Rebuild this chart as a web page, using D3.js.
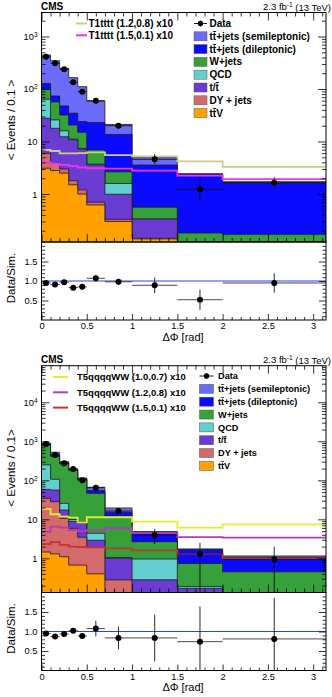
<!DOCTYPE html>
<html>
<head>
<meta charset="utf-8">
<script src="https://cdn.jsdelivr.net/npm/d3@7"></script>
<style>
  body { margin: 0; background: #fff; }
  svg { font-family: "Liberation Sans", Arial, Helvetica, sans-serif; }
</style>
</head>
<body>
<script>
// shared binning in delta phi
var binEdges = [0, 0.1, 0.2, 0.3, 0.4, 0.5, 0.7, 1.0, 1.5, 2.0, Math.PI];
var dataX = [0.05, 0.15, 0.25, 0.35, 0.45, 0.6, 0.85, 1.25, 1.75, 2.57];
var xTicks = [0, 0.5, 1, 1.5, 2, 2.5, 3];
var ratioTicks = [0.5, 1.0, 1.5];

// stack, bottom first
var procNames = ["tt\u0304V", "DY + jets", "t/t\u0304", "QCD", "W+jets",
                 "tt\u0304+jets (dileptonic)", "tt\u0304+jets (semileptonic)"];
var procColors = ["#ffa000", "#d46a6a", "#6a3cd2", "#63cfcf", "#36a03a", "#0a0aff", "#6b6bfa"];

// ---- upper plot (T1tttt) ----
var topTtv   = [3.1, 2.8, 2.5, 1.5, 1.0, 0.62, 0.30, 0.14, 0.001, 0.001];
var topDy    = [2.85, 1.05, 0.5, 0.3, 0.2, 0.08, 0.03, 0.003, 0, 0];
var topT     = [21.8, 14, 9.3, 9, 6, 2.9, 0.66, 0.19, 0.12, 0.12];
var topQcd   = [36, 7.9, 3.7, 0.3, 0.2, 0.1, 0.6, 0, 0, 0];
var topW     = [35, 31, 16, 9.5, 7.6, 3.2, 1.06, 0.23, 0.06, 0.05];
var topDilep = [29, 17, 15.6, 14, 9, 16, 11, 3.0, 2.2, 1.45];
var topSemi  = [316, 272, 200, 130, 87, 36, 7.5, 1.5, 0.06, 0.1];
var topData   = [412, 309, 237, 134, 89, 60, 20, 4.6, 1.23, 1.64];
var topDataLo = [392, 291, 222, 122, 80, 55, 17.5, 3.7, 0.74, 1.28];
var topDataHi = [432, 327, 252, 146, 98, 65, 22.5, 5.8, 1.99, 2.08];
var topRatio    = [0.95, 0.91, 0.97, 0.83, 0.85, 1.07, 0.98, 0.89, 0.52, 0.95];
var topRatioErr = [0.04, 0.04, 0.05, 0.05, 0.06, 0.08, 0.08, 0.2, 0.26, 0.25];
var topSigA = [6.9, 6.6, 5.95, 5.95, 6.0, 6.2, 5.5, 5.2, 4.2, 3.3];
var topSigB = [4.0, 3.8, 3.6, 3.4, 3.2, 3.1, 3.05, 2.8, 2.25, 1.93];
var topSigNames = ["T1tttt (1.2,0.8) x10", "T1tttt (1.5,0.1) x10"];
var topSigColors = ["#cdcd8a", "#ee33ee"];

// ---- lower plot (T5qqqqWW) ----
var botTtv   = [1.45, 1.3, 1.1, 0.67, 0.67, 0.4, 0.02, 0.001, 0, 0];
var botDy    = [33, 27, 9.5, 5.2, 2.8, 1.5, 0.26, 0.01, 0, 0];
var botT     = [24, 28, 6.7, 3, 5, 1.0, 0.72, 0.27, 0.17, 0.09];
var botQcd   = [190, 50, 8.4, 1, 0.3, 1.5, 0.05, 0.68, 0.02, 0.01];
var botW     = [560, 300, 240, 170, 93, 42, 11, 1.7, 0.55, 0.35];
var botDilep = [30, 40, 15, 6, 8, 8, 3, 1.8, 0.95, 0.61];
var botSemi  = [60, 78, 20, 8, 5, 12, 4.5, 0.4, 0.05, 0.09];
var botData   = [853, 447, 272, 195, 101, 64.5, 16.3, 3.96, 1.29, 0.94];
var botDataLo = [824, 426, 256, 181, 91, 58.8, 14, 2.3, 0.05, 0.05];
var botDataHi = [882, 468, 289, 209, 111, 70.2, 18.6, 5.6, 2.5, 1.98];
var botRatio    = [0.95, 0.87, 0.935, 1.02, 0.885, 1.075, 0.835, 0.835, 0.74, 0.81];
var botRatioErr = [0.04, 0.03, 0.05, 0.06, 0.07, 0.2, 0.29, 0.6, 0.9, 1.05];
var botSigA = [18.5, 13.5, 11.7, 11.0, 8.3, 11.3, 11.3, 8.7, 6.1, 7.4];
var botSigB = [4.8, 6.5, 6.1, 5.3, 5.0, 5.3, 5.9, 4.4, 3.5, 3.4];
var botSigC = [2.3, 2.6, 2.2, 2.0, 1.95, 1.9, 1.8, 1.6, 1.28, 1.0];
var botSigNames = ["T5qqqqWW (1.0,0.7) x10", "T5qqqqWW (1.2,0.8) x10", "T5qqqqWW (1.5,0.1) x10"];
var botSigColors = ["#e3ee2e", "#b43cb4", "#c83232"];

var svg = d3.select("body").append("svg").attr("width", 332).attr("height", 697);
var x = d3.scaleLinear().domain([0, Math.PI]).range([41.5, 326]);

function stepPts(vals, floor) {
  var pts = [];
  vals.forEach(function (v, i) {
    pts.push([binEdges[i], Math.max(v, floor)]);
    pts.push([binEdges[i + 1], Math.max(v, floor)]);
  });
  return pts;
}

function supLabels(sel, fs) {
  sel.selectAll(".tick text").each(function (d) {
    var t = d3.select(this);
    if (d >= 100) {
      t.text("10");
      t.append("tspan").attr("dy", "-0.5em").attr("font-size", (fs * 0.7) + "px")
        .text(Math.round(Math.log10(d)));
    }
  });
}

function drawPanel(p) {
  var y = d3.scaleLog().domain(p.yDomain).range([p.mid, p.top]);
  var yr = d3.scaleLinear().domain([0, 2]).range([p.bot, p.mid]);
  var floor = p.yDomain[0] * 0.5;

  svg.append("clipPath").attr("id", "main" + p.id).append("rect")
    .attr("x", x(0)).attr("y", p.top).attr("width", x(Math.PI) - x(0)).attr("height", p.mid - p.top);
  svg.append("clipPath").attr("id", "ratio" + p.id).append("rect")
    .attr("x", x(0)).attr("y", p.mid).attr("width", x(Math.PI) - x(0)).attr("height", p.bot - p.mid);

  var plot = svg.append("g").attr("clip-path", "url(#main" + p.id + ")");

  // cumulative stack
  var cum = [], run = p.stack[0].map(function () { return 0; });
  p.stack.forEach(function (s) {
    run = run.map(function (v, i) { return v + s[i]; });
    cum.push(run.slice());
  });
  var area = d3.area().x(function (d) { return x(d[0]); })
    .y0(p.mid + 3).y1(function (d) { return y(d[1]); });
  for (var k = cum.length - 1; k >= 0; k--) {
    plot.append("path").attr("d", area(stepPts(cum[k], floor)))
      .attr("fill", procColors[k]).attr("stroke", "#1c1c1c").attr("stroke-width", 0.8);
  }

  // signal lines
  var line = d3.line().x(function (d) { return x(d[0]); }).y(function (d) { return y(d[1]); });
  p.sigs.forEach(function (s, i) {
    plot.append("path").attr("d", line(stepPts(s, floor))).attr("fill", "none")
      .attr("stroke", p.sigColors[i]).attr("stroke-width", 1.8);
  });

  // data
  var dg = plot.append("g");
  p.data.forEach(function (v, i) {
    dg.append("line").attr("x1", x(binEdges[i])).attr("x2", x(binEdges[i + 1]))
      .attr("y1", y(v)).attr("y2", y(v)).attr("stroke", "#111").attr("stroke-width", 0.9);
    dg.append("line").attr("x1", x(dataX[i])).attr("x2", x(dataX[i]))
      .attr("y1", y(Math.max(p.dataLo[i], floor))).attr("y2", y(p.dataHi[i]))
      .attr("stroke", "#111").attr("stroke-width", 0.9);
    dg.append("circle").attr("cx", x(dataX[i])).attr("cy", y(v)).attr("r", 3).attr("fill", "#000");
  });

  // ratio panel
  var rg = svg.append("g").attr("clip-path", "url(#ratio" + p.id + ")");
  rg.append("line").attr("x1", x(0)).attr("x2", x(Math.PI)).attr("y1", yr(1)).attr("y2", yr(1))
    .attr("stroke", "#3344dd").attr("stroke-width", 1);
  p.ratio.forEach(function (v, i) {
    rg.append("line").attr("x1", x(binEdges[i])).attr("x2", x(binEdges[i + 1]))
      .attr("y1", yr(v)).attr("y2", yr(v)).attr("stroke", "#333").attr("stroke-width", 0.9);
    rg.append("line").attr("x1", x(dataX[i])).attr("x2", x(dataX[i]))
      .attr("y1", yr(v - p.ratioErr[i])).attr("y2", yr(v + p.ratioErr[i]))
      .attr("stroke", "#111").attr("stroke-width", 0.9);
    rg.append("circle").attr("cx", x(dataX[i])).attr("cy", yr(v)).attr("r", 3).attr("fill", "#000");
  });

  // axes: ticks pointing inward on all four sides
  var minorX = d3.range(1, 32).map(function (d) { return d / 10; }).filter(function (d) { return d % 0.5 > 0.01 && d % 0.5 < 0.49; });
  var logMinor = [];
  for (var e = -1; e <= 4; e++) for (var m = 2; m <= 9; m++) {
    var v = m * Math.pow(10, e);
    if (v > p.yDomain[0] && v < p.yDomain[1]) logMinor.push(v);
  }
  var logMajor = p.logTicks;
  var ratioMinor = d3.range(1, 20).map(function (d) { return d / 10; }).filter(function (d) { return Math.abs(d * 2 - Math.round(d * 2)) > 0.01; });

  function addAxis(ax, tx, ty) {
    var g = svg.append("g").attr("transform", "translate(" + tx + "," + ty + ")").call(ax);
    g.select(".domain").remove();
    g.selectAll("line").attr("stroke", "#000").attr("stroke-width", 0.8);
    return g;
  }
  var fs = 9.3;
  // main panel x
  addAxis(d3.axisBottom(x).tickValues(xTicks).tickSize(-8).tickFormat(""), 0, p.mid);
  addAxis(d3.axisBottom(x).tickValues(minorX).tickSize(-4).tickFormat(""), 0, p.mid);
  addAxis(d3.axisTop(x).tickValues(xTicks).tickSize(-8).tickFormat(""), 0, p.top);
  addAxis(d3.axisTop(x).tickValues(minorX).tickSize(-4).tickFormat(""), 0, p.top);
  // ratio x
  var xl = addAxis(d3.axisBottom(x).tickValues(xTicks).tickSize(-6).tickPadding(2.5).tickFormat(d3.format("")), 0, p.bot);
  xl.selectAll("text").attr("font-size", fs + "px").attr("fill", "#000");
  addAxis(d3.axisBottom(x).tickValues(minorX).tickSize(-3).tickFormat(""), 0, p.bot);
  // main y
  var yl = addAxis(d3.axisLeft(y).tickValues(logMajor).tickSize(-8).tickPadding(4).tickFormat(d3.format("")), x(0), 0);
  yl.selectAll("text").attr("font-size", fs + "px").attr("fill", "#000");
  supLabels(yl, fs);
  addAxis(d3.axisLeft(y).tickValues(logMinor).tickSize(-4).tickFormat(""), x(0), 0);
  addAxis(d3.axisRight(y).tickValues(logMajor).tickSize(-8).tickFormat(""), x(Math.PI), 0);
  addAxis(d3.axisRight(y).tickValues(logMinor).tickSize(-4).tickFormat(""), x(Math.PI), 0);
  // ratio y
  var rl = addAxis(d3.axisLeft(yr).tickValues(ratioTicks).tickSize(-7).tickPadding(4).tickFormat(d3.format(".1f")), x(0), 0);
  rl.selectAll("text").attr("font-size", fs + "px").attr("fill", "#000");
  addAxis(d3.axisLeft(yr).tickValues(ratioMinor).tickSize(-3.5).tickFormat(""), x(0), 0);
  addAxis(d3.axisRight(yr).tickValues(ratioTicks).tickSize(-7).tickFormat(""), x(Math.PI), 0);
  addAxis(d3.axisRight(yr).tickValues(ratioMinor).tickSize(-3.5).tickFormat(""), x(Math.PI), 0);

  // frames
  [[p.top, p.mid], [p.mid, p.bot]].forEach(function (r) {
    svg.append("rect").attr("x", x(0)).attr("y", r[0]).attr("width", x(Math.PI) - x(0))
      .attr("height", r[1] - r[0]).attr("fill", "none").attr("stroke", "#000").attr("stroke-width", 1);
  });

  // titles
  svg.append("text").attr("x", 41).attr("y", p.top - 3).attr("font-size", "10px")
    .attr("font-weight", "bold").text("CMS");
  var lumi = svg.append("text").attr("x", 331).attr("y", p.top - 3).attr("font-size", "9.5px")
    .attr("text-anchor", "end");
  lumi.append("tspan").text("2.3 fb");
  lumi.append("tspan").attr("dy", "-0.45em").attr("font-size", "6.5px").text("-1");
  lumi.append("tspan").attr("dy", "0.45em").text(" (13 TeV)");

  svg.append("text").attr("transform", "translate(15," + p.yTitleY + ") rotate(-90)")
    .attr("text-anchor", "middle").attr("font-size", "11.5px").text(p.yTitle);
  svg.append("text").attr("transform", "translate(15," + ((p.mid + p.bot) / 2 - 3) + ") rotate(-90)")
    .attr("text-anchor", "middle").attr("font-size", "11.5px").text("Data/Sim.");
  svg.append("text").attr("x", 183).attr("y", p.bot + 20.5).attr("text-anchor", "middle")
    .attr("font-size", "11px").text("\u0394\u03a6 [rad]");

  // left legend: signals
  p.sigNames.forEach(function (n, i) {
    var yy = p.sigLegY + i * p.sigLegDy;
    svg.append("line").attr("x1", p.sigLegX).attr("x2", p.sigLegX + p.sigLegW).attr("y1", yy).attr("y2", yy)
      .attr("stroke", p.sigColors[i]).attr("stroke-width", 2);
    svg.append("text").attr("x", p.sigLegX + p.sigLegW + p.sigLegGap).attr("y", yy).attr("dy", "0.35em")
      .attr("font-size", p.sigLegFs + "px").attr("font-weight", "bold").text(n);
  });

  // right legend: data + backgrounds
  var lx = p.legX, lw = p.legW, tx = lx + lw + p.legGap;
  var y0 = p.legY;
  svg.append("line").attr("x1", lx).attr("x2", lx + lw).attr("y1", y0).attr("y2", y0)
    .attr("stroke", "#000").attr("stroke-width", 0.9);
  svg.append("line").attr("x1", lx + lw / 2).attr("x2", lx + lw / 2).attr("y1", y0 - 3).attr("y2", y0 + 3)
    .attr("stroke", "#000").attr("stroke-width", 0.9);
  svg.append("circle").attr("cx", lx + lw / 2).attr("cy", y0).attr("r", 2.7).attr("fill", "#000");
  svg.append("text").attr("x", tx).attr("y", y0).attr("dy", "0.35em")
    .attr("font-size", p.legFs + "px").attr("font-weight", "bold").text("Data");
  for (var j = procNames.length - 1, r = 1; j >= 0; j--, r++) {
    var yy = p.legY + r * p.legDy;
    svg.append("rect").attr("x", lx).attr("y", yy - 4.5).attr("width", lw).attr("height", 9)
      .attr("fill", procColors[j]).attr("stroke", "#555").attr("stroke-width", 0.5);
    svg.append("text").attr("x", tx).attr("y", yy).attr("dy", "0.35em")
      .attr("font-size", p.legFs + "px").attr("font-weight", "bold").text(procNames[j]);
  }
}

drawPanel({
  id: "a", top: 12.5, mid: 242, bot: 320,
  yDomain: [0.122, 2865], logTicks: [1, 10, 100, 1000],
  stack: [topTtv, topDy, topT, topQcd, topW, topDilep, topSemi],
  data: topData, dataLo: topDataLo, dataHi: topDataHi,
  ratio: topRatio, ratioErr: topRatioErr,
  sigs: [topSigA, topSigB], sigNames: topSigNames, sigColors: topSigColors,
  yTitle: "< Events / 0.1 >", yTitleY: 120,
  sigLegX: 76, sigLegW: 11, sigLegGap: 1.5, sigLegY: 23.5, sigLegDy: 11.8, sigLegFs: 10,
  legX: 194, legW: 13, legGap: 2.5, legY: 23.5, legDy: 12.8, legFs: 10
});

drawPanel({
  id: "b", top: 365.7, mid: 592.5, bot: 670.5,
  yDomain: [0.133, 86700], logTicks: [1, 10, 100, 1000, 10000],
  stack: [botTtv, botDy, botT, botQcd, botW, botDilep, botSemi],
  data: botData, dataLo: botDataLo, dataHi: botDataHi,
  ratio: botRatio, ratioErr: botRatioErr,
  sigs: [botSigA, botSigB, botSigC], sigNames: botSigNames, sigColors: botSigColors,
  yTitle: "< Events / 0.1>", yTitleY: 468,
  sigLegX: 53, sigLegW: 15, sigLegGap: 9, sigLegY: 377, sigLegDy: 15.3, sigLegFs: 9.5,
  legX: 199.5, legW: 14, legGap: 4.5, legY: 376, legDy: 12.85, legFs: 9.2
});
</script>
</body>
</html>
